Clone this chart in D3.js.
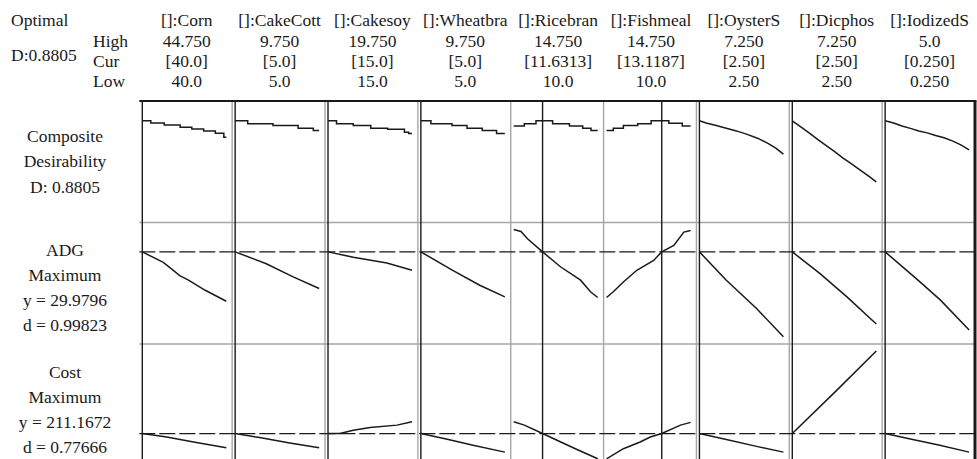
<!DOCTYPE html>
<html>
<head>
<meta charset="utf-8">
<script src="https://cdn.jsdelivr.net/npm/d3@7"></script>
<style>
body { margin: 0; background: #fff; }
svg { display: block; font-family: "Liberation Serif", "Times New Roman", serif; }
</style>
</head>
<body>
<svg id="chart"></svg>
<script>
// factor settings read from the header
const factors = ['[]:Corn', '[]:CakeCott', '[]:Cakesoy', '[]:Wheatbra', '[]:Ricebran', '[]:Fishmeal', '[]:OysterS', '[]:Dicphos', '[]:IodizedS'];
const highLabels = ['44.750', '9.750', '19.750', '9.750', '14.750', '14.750', '7.250', '7.250', '5.0'];
const curLabels = ['[40.0]', '[5.0]', '[15.0]', '[5.0]', '[11.6313]', '[13.1187]', '[2.50]', '[2.50]', '[0.250]'];
const lowLabels = ['40.0', '5.0', '15.0', '5.0', '10.0', '10.0', '2.50', '2.50', '0.250'];
const lowVals = [40, 5, 15, 5, 10, 10, 2.5, 2.5, 0.25];
const highVals = [44.75, 9.75, 19.75, 9.75, 14.75, 14.75, 7.25, 7.25, 5.0];
const curVals = [40, 5, 15, 5, 11.6313, 13.1187, 2.5, 2.5, 0.25];

// response rows
const rowLabels = [
  ['Composite', 'Desirability', 'D: 0.8805'],
  ['ADG', 'Maximum', 'y = 29.9796', 'd = 0.99823'],
  ['Cost', 'Maximum', 'y = 211.1672', 'd = 0.77666']
];
const rowDomains = [[0, 1], [26.1, 31.0], [204.5, 233.2]];
const rowCurrent = [null, 29.9796, 211.1672];

// composite desirability traces, [factor value, D]
const desirCurves = [
  [[40, .8805], [40.48, .862], [41.24, .845], [42.14, .825], [42.8, .81], [43.47, .793], [44.13, .773], [44.61, .739], [44.75, .739]],
  [[5, .8805], [5.71, .856], [7.14, .839], [8.56, .816], [9.42, .796], [9.75, .796]],
  [[15, .8805], [15.48, .856], [16.43, .839], [17.42, .816], [18.37, .808], [19.32, .782], [19.56, .77], [19.75, .77]],
  [[5, .8805], [5.57, .856], [6.76, .839], [7.61, .816], [8.47, .796], [9.28, .77], [9.75, .77]],
  [[10, .836], [10.6, .856], [11.26, .8805], [12.2, .856], [13.15, .836], [13.9, .816], [14.37, .796], [14.75, .796]],
  [[10, .796], [10.38, .816], [10.95, .839], [11.76, .856], [12.52, .8805], [13.52, .859], [14.28, .836], [14.75, .836]],
  [[2.5, .8805], [2.88, .862], [3.45, .839], [4.02, .816], [4.59, .793], [5.16, .765], [5.78, .73], [6.35, .687], [6.82, .644], [7.25, .592]],
  [[2.5, .8805], [2.98, .828], [3.45, .776], [3.93, .72], [4.4, .668], [4.88, .616], [5.35, .56], [5.83, .509], [6.3, .457], [6.78, .405], [7.25, .351]],
  [[0.25, .8805], [0.73, .862], [1.2, .836], [1.68, .815], [2.15, .793], [2.63, .776], [3.1, .754], [3.58, .733], [4.05, .707], [4.53, .672], [5.0, .629]]
];

// ADG traces
const adgCurves = [
  [[40, 29.98], [41.19, 29.5], [42.14, 28.89], [42.61, 28.69], [43.56, 28.23], [44.75, 27.73]],
  [[5, 29.98], [6.76, 29.44], [8.28, 28.84], [9.75, 28.31]],
  [[15, 29.98], [16.43, 29.74], [18.33, 29.47], [19.75, 29.14]],
  [[5, 29.98], [6.8, 29.14], [8.33, 28.46], [9.75, 27.93]],
  [[10, 31.0], [10.41, 30.91], [10.78, 30.58], [11.63, 29.98], [12.66, 29.29], [13.78, 28.69], [14.34, 28.16], [14.75, 27.9]],
  [[10, 27.9], [10.38, 28.16], [10.95, 28.61], [11.71, 29.14], [12.66, 29.59], [13.12, 29.98], [13.8, 30.27], [14.37, 30.88], [14.75, 30.95]],
  [[2.5, 29.98], [4.02, 28.69], [5.73, 27.4], [7.25, 26.11]],
  [[2.5, 29.98], [4.07, 28.99], [5.59, 27.93], [7.25, 26.69]],
  [[0.25, 29.98], [2.01, 28.76], [3.38, 27.78], [5.0, 26.42]]
];

// Cost traces
const costCurves = [
  [[40, 211.17], [41.38, 210.25], [42.9, 208.9], [44.75, 207.39]],
  [[5, 211.17], [6.38, 210.09], [8.09, 208.63], [9.75, 207.39]],
  [[15, 211.17], [15.67, 211.17], [16.43, 212.06], [17.38, 212.79], [18.9, 213.41], [19.75, 214.3]],
  [[5, 211.17], [6.43, 209.71], [7.95, 208.01], [9.75, 206.2]],
  [[10, 214.3], [10.6, 213.41], [11.63, 211.17], [12.66, 208.9], [13.61, 206.85], [14.75, 204.42]],
  [[10, 204.42], [10.95, 207.12], [11.9, 208.9], [12.47, 210.25], [13.12, 211.17], [14.18, 213.41], [14.75, 214.14]],
  [[2.5, 211.17], [4.02, 209.55], [5.73, 207.74], [7.25, 206.2]],
  [[2.5, 211.17], [4.88, 222.08], [7.25, 233.2]],
  [[0.25, 211.17], [1.68, 209.71], [3.34, 208.01], [5.0, 206.2]]
];

const rowCurves = [desirCurves, adgCurves, costCurves];

const W = 977;
const H = 459;
const plotLeft = 139.3;
const plotRight = 975;
const colW = (plotRight - plotLeft) / factors.length;
const rowTop = 101;
const rowH = 121.5;
const FS = 17.5;
const GRAY = '#a6a6a6';
const INK = '#1a1a1a';
// desirability traces with coarse visible steps; the rest are fine stairs, drawn straight
const steppedCols = [0, 1, 2, 3, 4, 5];

const $svg = d3.select('#chart').attr('width', W).attr('height', H);

const colLeft = i => plotLeft + i * colW;
const rTop = r => rowTop + r * rowH;

const xScales = factors.map((d, i) =>
  d3.scaleLinear().domain([lowVals[i], highVals[i]]).range([colLeft(i) + 3, colLeft(i) + 87])
);
const yScales = rowDomains.map((dom, r) => {
  const range = r === 0
    ? [rTop(r) + rowH, rTop(r) + 6]
    : [rTop(r) + rowH - 7, rTop(r) + 7];
  return d3.scaleLinear().domain(dom).range(range);
});

// header text
const $head = $svg.append('g').attr('font-size', FS).attr('fill', INK);
$head.append('text').attr('x', 11).attr('y', 26).text('Optimal');
$head.append('text').attr('x', 11).attr('y', 61).text('D:0.8805');
[['High', 47], ['Cur', 67], ['Low', 87]].forEach(([t, y]) => {
  $head.append('text').attr('x', 93).attr('y', y).text(t);
});

const $cols = $head.selectAll('g.col')
  .data(factors)
  .join('g')
  .attr('class', 'col')
  .attr('text-anchor', 'middle');
$cols.append('text').attr('x', (d, i) => colLeft(i) + colW / 2 + 1).attr('y', 26).text(d => d);
$cols.append('text').attr('x', (d, i) => colLeft(i) + colW / 2 + 1).attr('y', 47).text((d, i) => highLabels[i]);
$cols.append('text').attr('x', (d, i) => colLeft(i) + colW / 2 + 1).attr('y', 67).text((d, i) => curLabels[i]);
$cols.append('text').attr('x', (d, i) => colLeft(i) + colW / 2 + 1).attr('y', 87).text((d, i) => lowLabels[i]);

// row labels
rowLabels.forEach((lines, r) => {
  const first = lines.length === 3 ? rTop(r) + 40.5 : rTop(r) + 33.5;
  const step = lines.length === 3 ? 25.5 : 25;
  $svg.append('g')
    .attr('font-size', FS)
    .attr('fill', INK)
    .attr('text-anchor', 'middle')
    .selectAll('text')
    .data(lines)
    .join('text')
    .attr('x', 65)
    .attr('y', (d, i) => first + i * step)
    .text(d => d);
});

const bottom = rTop(rowLabels.length);

// grid: column and row separators
const $grid = $svg.append('g').attr('stroke', GRAY).attr('stroke-width', 1.4);
d3.range(1, factors.length).forEach(i => {
  $grid.append('line')
    .attr('x1', colLeft(i)).attr('x2', colLeft(i))
    .attr('y1', rowTop).attr('y2', bottom);
});
d3.range(1, rowLabels.length).forEach(r => {
  $grid.append('line')
    .attr('x1', plotLeft).attr('x2', plotRight)
    .attr('y1', rTop(r)).attr('y2', rTop(r));
});

// dashed current response lines
rowCurrent.forEach((v, r) => {
  if (v === null) return;
  const y = yScales[r](v);
  $svg.append('line')
    .attr('x1', plotLeft).attr('x2', plotRight)
    .attr('y1', y).attr('y2', y)
    .attr('stroke', INK)
    .attr('stroke-width', 1.3)
    .attr('stroke-dasharray', '16,4');
});

// current factor settings
$svg.append('g')
  .selectAll('line')
  .data(curVals)
  .join('line')
  .attr('x1', (d, i) => xScales[i](d))
  .attr('x2', (d, i) => xScales[i](d))
  .attr('y1', rowTop)
  .attr('y2', bottom)
  .attr('stroke', INK)
  .attr('stroke-width', 1.4);

// traces
rowCurves.forEach((curves, r) => {
  curves.forEach((pts, i) => {
    const stepped = r === 0 && steppedCols.includes(i);
    const line = d3.line()
      .x(d => xScales[i](d[0]))
      .y(d => yScales[r](d[1]))
      .curve(stepped ? d3.curveStepAfter : d3.curveLinear);
    $svg.append('path')
      .attr('d', line(pts))
      .attr('fill', 'none')
      .attr('stroke', INK)
      .attr('stroke-width', 1.5);
  });
});

// frame: top and right edges
$svg.append('line')
  .attr('x1', plotLeft).attr('x2', plotRight + 1.5)
  .attr('y1', rowTop).attr('y2', rowTop)
  .attr('stroke', INK).attr('stroke-width', 2);
$svg.append('line')
  .attr('x1', plotRight).attr('x2', plotRight)
  .attr('y1', rowTop).attr('y2', bottom)
  .attr('stroke', INK).attr('stroke-width', 3);
</script>
</body>
</html>
